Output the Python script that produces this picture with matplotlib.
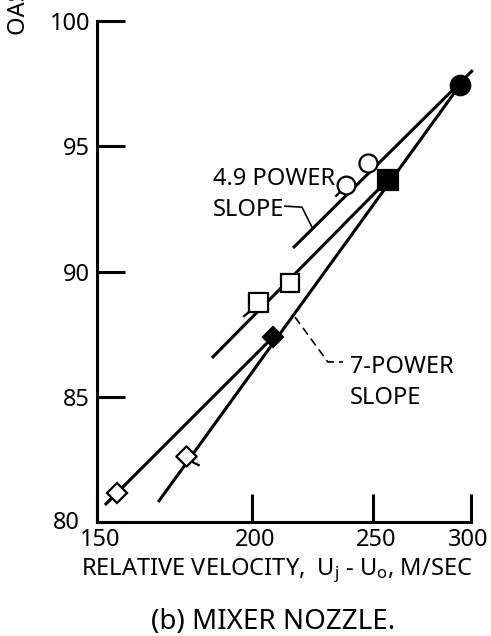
# Mixer nozzle OASPL vs relative velocity (log velocity axis)
import numpy as np
import matplotlib.pyplot as plt
from matplotlib.path import Path
from matplotlib.transforms import ScaledTranslation

plt.rcParams['font.family'] = ['Noto Sans', 'DejaVu Sans']
plt.rcParams['font.stretch'] = 'condensed'
plt.rcParams['mathtext.default'] = 'regular'

# measured points (velocity in m/s, OASPL in dB)
open_circle_x = [238, 248]
open_circle_y = [93.45, 94.35]
filled_circle_x = [294]
filled_circle_y = [97.45]
open_square_x = [202, 214.5]
open_square_y = [88.8, 89.55]
filled_square_x = [257]
filled_square_y = [93.65]
open_diamond_x = [155.7, 177]
open_diamond_y = [81.15, 82.65]
filled_diamond_x = [208]
filled_diamond_y = [87.4]

# faired lines (end points)
line_49_x = [215.7, 301]
line_49_y = [90.94, 98.04]
line_sq_x = [185.6, 257]
line_sq_y = [86.55, 93.65]
line_7_x = [168, 294]
line_7_y = [80.8, 97.45]
line_d_x = [152.2, 208]
line_d_y = [80.68, 87.4]

xticks = [150, 200, 250, 300]
yticks = [80, 85, 90, 95, 100]


def flagged(shape, flag):
    # symbol outline plus a short flag stroke
    return Path.make_compound_path(shape, Path(flag, [Path.MOVETO, Path.LINETO]))


circ = Path.unit_circle()
sq = Path([(-1, -1), (1, -1), (1, 1), (-1, 1), (-1, -1)],
          [Path.MOVETO, Path.LINETO, Path.LINETO, Path.LINETO, Path.CLOSEPOLY])
dia = Path([(0, -1), (1, 0), (0, 1), (-1, 0), (0, -1)],
           [Path.MOVETO, Path.LINETO, Path.LINETO, Path.LINETO, Path.CLOSEPOLY])
circ_flag = flagged(circ, [(-0.707, -0.707), (-1.25, -1.25)])
sq_flag = flagged(sq, [(-1, -1), (-1.6, -1.5)])
dia_flag = flagged(dia, [(0.5, -0.5), (1.3, -0.9)])

fig = plt.figure(figsize=(4.91, 6.36), dpi=100)
ax = fig.add_axes([0.1976, 0.1792, 0.7617, 0.7877])
ax.set_xscale('log')
ax.set_xlim(150, 300)
ax.set_ylim(80, 100)

lw = 2.2
for lx, ly in [(line_49_x, line_49_y), (line_sq_x, line_sq_y),
               (line_7_x, line_7_y), (line_d_x, line_d_y)]:
    ax.plot(lx, ly, color='black', lw=lw, solid_capstyle='butt', clip_on=False)

mew = 1.6
kw = dict(ls='none', mec='black', mew=mew, clip_on=False)
# open symbols: some carry a flag
ax.plot(open_circle_x[:1], open_circle_y[:1], marker=circ_flag, ms=16, mfc='white', **kw)
ax.plot(open_circle_x[1:], open_circle_y[1:], 'o', ms=13, mfc='white', **kw)
ax.plot(filled_circle_x, filled_circle_y, 'o', ms=14, mfc='black', **kw)
ax.plot(open_square_x[:1], open_square_y[:1], marker=sq_flag, ms=22, mfc='white', **kw)
ax.plot(open_square_x[1:], open_square_y[1:], 's', ms=13.5, mfc='white', **kw)
ax.plot(filled_square_x, filled_square_y, 's', ms=14, mfc='black', **kw)
ax.plot(open_diamond_x[:1], open_diamond_y[:1], 'D', ms=10.5, mfc='white', **kw)
ax.plot(open_diamond_x[1:], open_diamond_y[1:], marker=dia_flag, ms=19, mfc='white', **kw)
ax.plot(filled_diamond_x, filled_diamond_y, 'D', ms=10.5, mfc='black', **kw)

# axes styling: only left and bottom spines, long inward ticks
for side in ['top', 'right']:
    ax.spines[side].set_visible(False)
for side in ['left', 'bottom']:
    ax.spines[side].set_linewidth(2.2)

ax.xaxis.set_minor_locator(plt.NullLocator())
ax.yaxis.set_minor_locator(plt.NullLocator())
ax.set_xticks(xticks)
ax.set_xticklabels([str(t) for t in xticks])
ax.set_yticks(yticks)
ax.set_yticklabels([str(t) for t in yticks])
ax.tick_params(axis='both', direction='in', length=20, width=2.2,
               labelsize=17, pad=5)

# nudge tick labels the way they sit in the original
def nudge(label, dx, dy):
    label.set_transform(label.get_transform() +
                        ScaledTranslation(dx / 100, dy / 100, fig.dpi_scale_trans))

xt = ax.xaxis.get_major_ticks()
for t in xt[:-1]:
    nudge(t.label1, 3, 1)
nudge(xt[-1].label1, -3, 1)
nudge(ax.yaxis.get_major_ticks()[0].label1, -10, 2)

# annotations
ax.text(186, 94.17, '4.9 POWER\nSLOPE', ha='left', va='top', fontsize=17,
        linespacing=1.4)
ax.plot([212.5, 219.3, 223.4], [92.61, 92.57, 91.78], color='black', lw=1.2)
ax.text(239.7, 86.67, '7-POWER\nSLOPE', ha='left', va='top', fontsize=17,
        linespacing=1.4)
ax.plot([216.5, 230.1, 236.6], [88.18, 86.39, 86.39], color='black', lw=1.2,
        ls=(0, (5, 3)))

fig.text(0.563, 1 - 571 / 636, 'RELATIVE VELOCITY,  U$_j$ - U$_o$, M/SEC', ha='center',
         va='center', fontsize=17)
fig.text(0.556, 1 - 622 / 636, '(b) MIXER NOZZLE.', ha='center', va='center', fontsize=20)
fig.text(0.038, 1 - 35 / 636, 'OASPL, dB', rotation=90, ha='center', va='bottom',
         fontsize=17)

fig.savefig('out.png', dpi=100)
